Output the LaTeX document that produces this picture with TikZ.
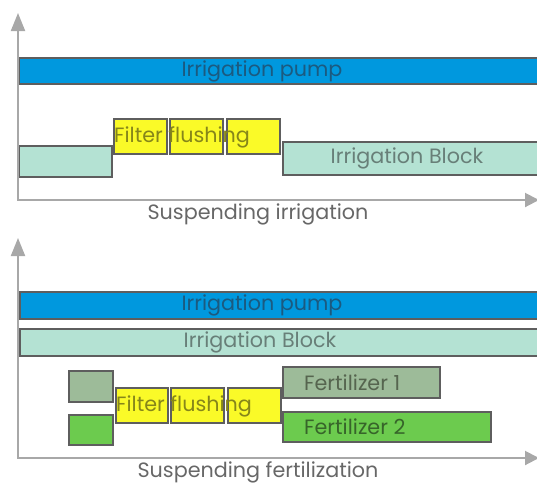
\documentclass[tikz,border=0pt]{standalone}
\usepackage{fontspec}
\setmainfont{Poppins}
\usetikzlibrary{arrows.meta}
\definecolor{pumpblue}{HTML}{0098DE}
\definecolor{blockteal}{HTML}{B4E2D3}
\definecolor{flushyellow}{HTML}{FAFA28}
\definecolor{fertone}{HTML}{9DBB99}
\definecolor{ferttwo}{HTML}{6CCB4E}
\definecolor{edgegray}{HTML}{5E5E5E}
\definecolor{axisgray}{HTML}{A8A8A8}
\definecolor{pumptext}{HTML}{1B5A80}
\definecolor{blocktext}{HTML}{687F78}
\definecolor{flushtext}{HTML}{86861A}
\definecolor{fertonetext}{HTML}{56654F}
\definecolor{ferttwotext}{HTML}{37652A}
\definecolor{captiontext}{HTML}{676767}
\begin{document}
\begin{tikzpicture}[x=1pt,y=-1pt,
  bar/.style={draw=edgegray, line width=1.3pt, anchor=north west, inner sep=0pt, outer sep=0pt},
  lbl/.style={inner sep=0pt, font=\fontsize{20.7}{24}\selectfont},
  axis/.style={draw=axisgray, line width=2pt,
    {Triangle[width=14pt,length=18pt]}-{Triangle[width=14pt,length=14pt]}}]
\useasboundingbox (0,0) rectangle (537,483);
\clip (0,0) rectangle (537,483);

% ---------- upper chart: suspending irrigation ----------
\node[bar, fill=pumpblue, minimum width=530pt, minimum height=26pt] (pumpA) at (19,58) {};
\node[bar, fill=blockteal, minimum width=93pt, minimum height=31pt] (blockAa) at (19,146) {};
\node[bar, fill=flushyellow, minimum width=53pt, minimum height=35pt] (flushAa) at (114,119) {};
\node[bar, fill=flushyellow, minimum width=53pt, minimum height=35pt] (flushAb) at (170,119) {};
\node[bar, fill=flushyellow, minimum width=53pt, minimum height=35pt] (flushAc) at (227,119) {};
\node[bar, fill=blockteal, minimum width=270pt, minimum height=33pt] (blockAb) at (283,142) {};

\node[lbl, text=pumptext] (pumpAtxt) at (262,71) {Irrigation pump};
\node[lbl, text=flushtext, anchor=west] (flushAtxt) at (114,137) {Filter flushing};
\node[lbl, text=blocktext] (blockAtxt) at (407,158) {Irrigation Block};
\node[lbl, text=captiontext] (capA) at (258,214) {Suspending irrigation};

\coordinate (oA) at (18,200);
\coordinate (yA) at (18,13);
\coordinate (xA) at (539,200);
\draw[axis] (yA) -- (oA) -- (xA);

% ---------- lower chart: suspending fertilization ----------
\node[bar, fill=pumpblue, minimum width=530pt, minimum height=27pt] (pumpB) at (20,292) {};
\node[bar, fill=blockteal, minimum width=530pt, minimum height=27pt] (blockB) at (20,329) {};
\node[bar, fill=fertone, minimum width=44pt, minimum height=31pt] (fertBa) at (69,371) {};
\node[bar, fill=ferttwo, minimum width=44pt, minimum height=30pt] (fertBb) at (69,415) {};
\node[bar, fill=flushyellow, minimum width=52pt, minimum height=35pt] (flushBa) at (116,388) {};
\node[bar, fill=flushyellow, minimum width=53pt, minimum height=35pt] (flushBb) at (171,388) {};
\node[bar, fill=flushyellow, minimum width=53pt, minimum height=35pt] (flushBc) at (228,388) {};
\node[bar, fill=fertone, minimum width=157pt, minimum height=31pt] (fertOne) at (283,367) {};
\node[bar, fill=ferttwo, minimum width=208pt, minimum height=30pt] (fertTwo) at (283,412) {};

\node[lbl, text=pumptext] (pumpBtxt) at (262,305) {Irrigation pump};
\node[lbl, text=blocktext] (blockBtxt) at (260,342) {Irrigation Block};
\node[lbl, text=flushtext, anchor=west] (flushBtxt) at (116,406) {Filter flushing};
\node[lbl, text=fertonetext, anchor=west] (fertOnetxt) at (304,383) {Fertilizer 1};
\node[lbl, text=ferttwotext, anchor=west] (fertTwotxt) at (304,427) {Fertilizer 2};
\node[lbl, text=captiontext] (capB) at (258,472) {Suspending fertilization};

\coordinate (oB) at (18,458);
\coordinate (yB) at (18,238);
\coordinate (xB) at (539,458);
\draw[axis] (yB) -- (oB) -- (xB);
\end{tikzpicture}
\end{document}
